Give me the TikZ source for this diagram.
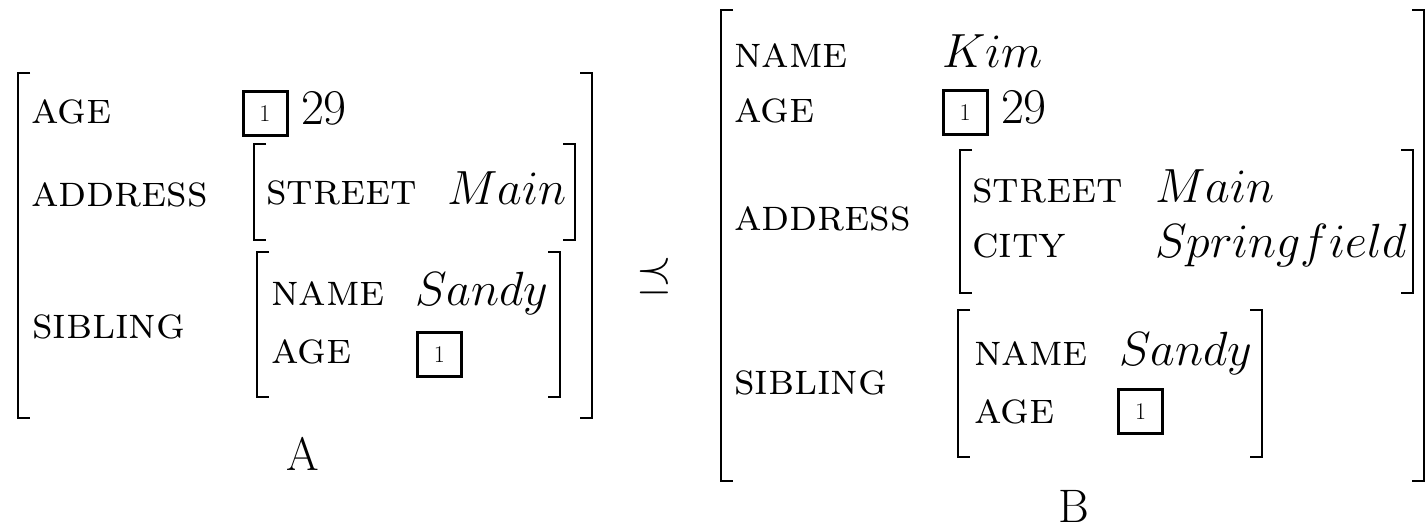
\documentclass[tikz,border=0pt]{standalone}
\usepackage{fix-cm}
\usepackage{amssymb}
\begin{document}
\begin{tikzpicture}[x=1pt,y=-1pt,
  every node/.style={inner sep=0pt,outer sep=0pt},
  feat/.style={anchor=base west,font=\fontsize{45}{54}\selectfont\scshape},
  val/.style={anchor=base west,font=\fontsize{48}{58}\selectfont},
  num/.style={anchor=base west,font=\fontsize{50}{60}\selectfont},
  tagbox/.style={draw,line width=3pt,minimum width=44pt,minimum height=44pt,font=\fontsize{24}{28}\selectfont},
  brk/.style={line width=2.8pt},
  lbl/.style={anchor=base,font=\fontsize{47}{56}\selectfont},
  relsym/.style={font=\fontsize{46}{55}\selectfont}]
\clip (0,0) rectangle (1426,529);
\useasboundingbox (0,0) rectangle (1426,529);
\newcommand{\lbrk}[3]{\draw[brk] (#1+12,#2) -- (#1,#2) -- (#1,#3) -- (#1+12,#3);}
\newcommand{\rbrk}[3]{\draw[brk] (#1-12,#2) -- (#1,#2) -- (#1,#3) -- (#1-12,#3);}
% ---------- A ----------
\lbrk{18}{73}{418}\rbrk{592}{73}{418}
\node[feat] (aAge) at (31,124) {age};
\node[tagbox] (aTag) at (265,113.5) {1};
\node[num] (a29) at (301,125) {29};
\node[feat] (aAddr) at (31,207) {address};
\lbrk{254}{144}{240}\rbrk{575}{144}{240}
\node[feat] (aStreet) at (266,205) {street};
\node[val] (aMain) at (447,205) {$Main$};
\node[feat] (aSib) at (32,338) {sibling};
\lbrk{257}{252}{397}\rbrk{560}{252}{397}
\node[feat] (aSName) at (271,305) {name};
\node[val] (aSandy) at (415,305) {$Sandy$};
\node[feat] (aSAge) at (271,363) {age};
\node[tagbox] (aSTag) at (439.5,354.5) {1};
\node[lbl] (labA) at (303,470) {A};
% ---------- relation ----------
\node[relsym] (rel) at (654,276) {$\preceq$};
% ---------- B ----------
\lbrk{721}{10}{481}\rbrk{1424}{10}{481}
\node[feat] (bName) at (734,68) {name};
\node[val] (bKim) at (942,68) {$Kim$};
\node[feat] (bAge) at (734,123) {age};
\node[tagbox] (bTag) at (965,112.5) {1};
\node[num] (b29) at (1001,124) {29};
\node[feat] (bAddr) at (734,231) {address};
\lbrk{960}{150}{293}\rbrk{1413}{150}{293}
\node[feat] (bStreet) at (972,203) {street};
\node[val] (bMain) at (1155,203) {$Main$};
\node[feat] (bCity) at (972,258) {city};
\node[val] (bSpring) at (1155,258) {$Springfield$};
\node[feat] (bSib) at (734,394) {sibling};
\lbrk{958}{310}{457}\rbrk{1262}{310}{457}
\node[feat] (bSName) at (974,365) {name};
\node[val] (bSandy) at (1119,365) {$Sandy$};
\node[feat] (bSAge) at (974,423) {age};
\node[tagbox] (bSTag) at (1140.5,411.5) {1};
\node[lbl] (labB) at (1074,522) {B};
\end{tikzpicture}
\end{document}
